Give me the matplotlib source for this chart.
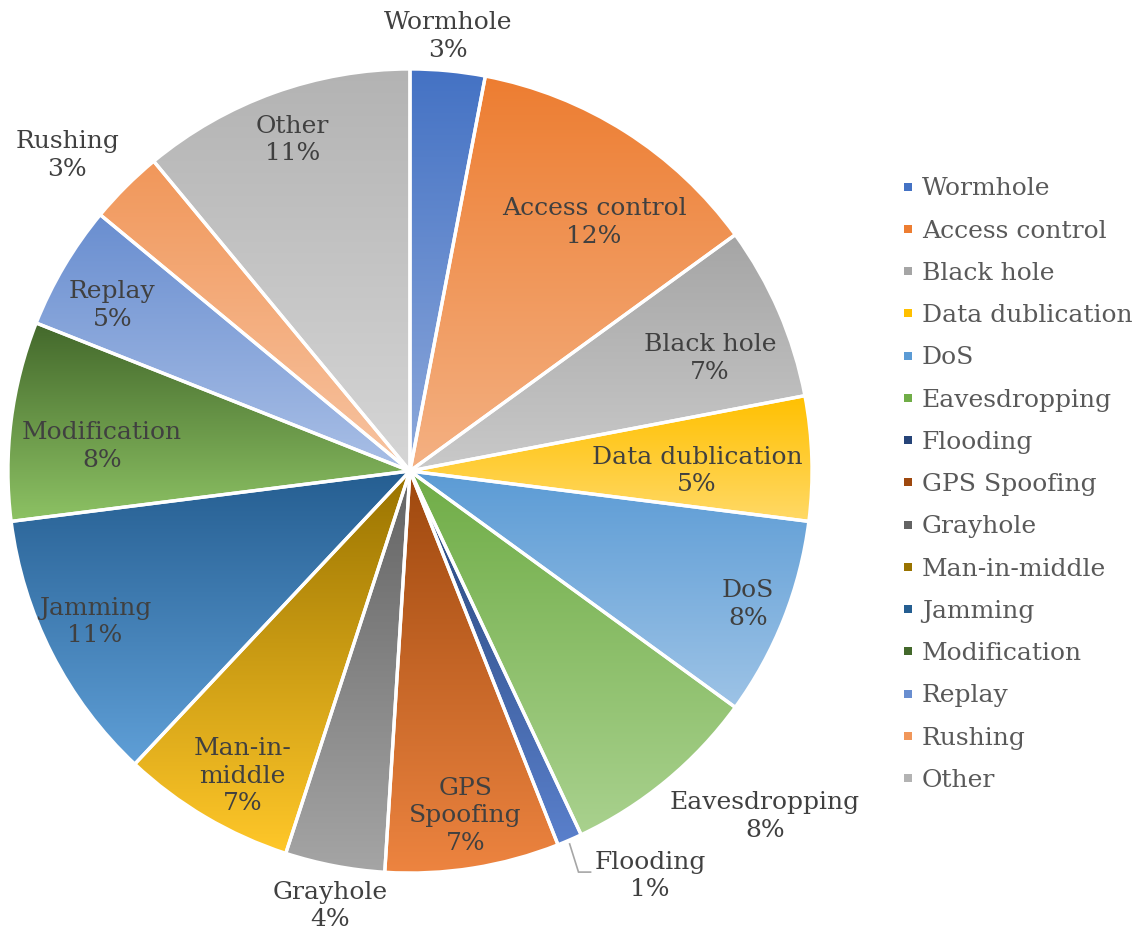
import matplotlib
matplotlib.use("Agg")
import matplotlib.pyplot as plt
import numpy as np
from matplotlib.colors import LinearSegmentedColormap
from matplotlib.lines import Line2D

# attack types and their share (%)
attacks = ["Wormhole", "Access control", "Black hole", "Data dublication", "DoS",
           "Eavesdropping", "Flooding", "GPS Spoofing", "Grayhole", "Man-in-middle",
           "Jamming", "Modification", "Replay", "Rushing", "Other"]
shares = [3, 12, 7, 5, 8, 8, 1, 7, 4, 7, 11, 8, 5, 3, 11]

# label text inside/outside the slices (line breaks as drawn)
label_text = ["Wormhole", "Access control", "Black hole", "Data dublication", "DoS",
              "Eavesdropping", "Flooding", "GPS\nSpoofing", "Grayhole", "Man-in-\nmiddle",
              "Jamming", "Modification", "Replay", "Rushing", "Other"]

# gradient fill, top colour -> bottom colour
top_colors = ["#4472C4", "#ED7D31", "#A5A5A5", "#FFC000", "#5B9BD5", "#70AD47",
              "#264478", "#9E480E", "#636363", "#997300", "#255E91", "#43682B",
              "#698ED0", "#F1975A", "#B3B3B3"]
bottom_colors = ["#8EA9DB", "#F4B183", "#C9C9C9", "#FFD966", "#9DC3E6", "#A9D18E",
                 "#5A80CC", "#ED8440", "#A5A5A5", "#FFC729", "#5F9FD7", "#8DC264",
                 "#A9BFE6", "#F7C4A2", "#D6D6D6"]

# label placement: distance from centre (in radii) and angular nudge (deg)
label_r = [1.086, 0.77, 0.797, 0.714, 0.904, 1.232, 1.171, 0.869, 1.10, 0.866,
           0.869, 0.768, 0.847, 1.158, 0.874]
label_shift = [-0.4, 4.1, 2.8, 1.8, -0.1, -6.2, -7.25, -0.1, -0.4, -1.8,
               1.4, -2.7, -1.6, -2.4, 0.2]

TEXT = "#404040"
FONT = "DejaVu Serif"
FS = 18

fig = plt.figure(figsize=(11.42, 9.35), dpi=100)
ax = fig.add_axes([0, 0, 1, 1])

wedges, _ = ax.pie(shares, startangle=90, counterclock=False, radius=1.0,
                   wedgeprops=dict(linewidth=2.4, edgecolor="white"))

grad = np.linspace(0, 1, 256).reshape(-1, 1)
for w, c_top, c_bot in zip(wedges, top_colors, bottom_colors):
    t = np.radians(np.linspace(w.theta1, w.theta2, 200))
    xs = np.concatenate([[0], np.cos(t)]) * w.r
    ys = np.concatenate([[0], np.sin(t)]) * w.r
    cmap = LinearSegmentedColormap.from_list("g", [c_top, c_bot])
    im = ax.imshow(grad, cmap=cmap, aspect="auto", origin="upper",
                   extent=[xs.min(), xs.max(), ys.min(), ys.max()], zorder=1)
    im.set_clip_path(w)
    w.set_facecolor("none")
    w.set_zorder(2)

# data labels
cum = np.cumsum(shares) - np.array(shares) / 2
total = sum(shares)
for i, (txt, v) in enumerate(zip(label_text, shares)):
    ang = np.radians(cum[i] / total * 360 + label_shift[i])
    x = label_r[i] * np.sin(ang)
    y = label_r[i] * np.cos(ang)
    ax.text(x, y, f"{txt}\n{v}%", ha="center", va="center", fontsize=FS,
            family=FONT, color=TEXT, linespacing=1.27, zorder=3)

# leader line for the thin Flooding slice
i = attacks.index("Flooding")
a0 = np.radians(cum[i] / total * 360)
x0, y0 = np.sin(a0), np.cos(a0)
ax.plot([x0, x0 + 0.022, x0 + 0.052], [y0 - 0.01, y0 - 0.08, y0 - 0.08],
        color="#A6A6A6", lw=1.2, zorder=3, solid_joinstyle="miter")

handles = [Line2D([], [], marker="s", linestyle="none", markersize=5.5,
                  markerfacecolor=c, markeredgewidth=0)
           for c in top_colors]
leg = ax.legend(handles, attacks, loc="upper left", bbox_to_anchor=(0.78, 0.821),
                frameon=False, prop=dict(family=FONT, size=FS),
                handlelength=0.55, handletextpad=0.3, labelspacing=0.77,
                borderaxespad=0)
for t in leg.get_texts():
    t.set_color("#595959")

ax.set_autoscale_on(False)
ax.set_aspect("auto")
ax.set_xlim(-410 / 402, (1142 - 410) / 402)
ax.set_ylim((471 - 935) / 402, 471 / 402)
ax.axis("off")

fig.savefig("out.png", dpi=100, facecolor="white")
